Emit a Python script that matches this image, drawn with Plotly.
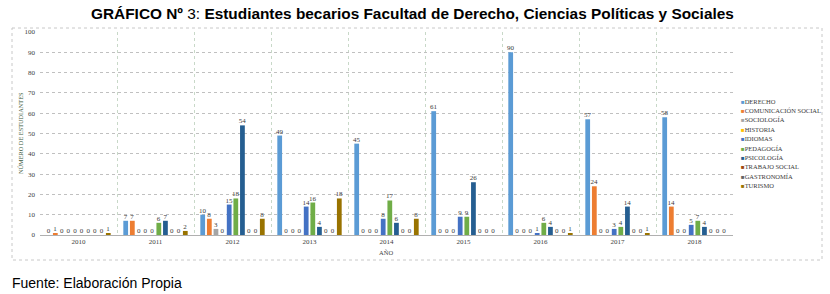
import plotly.graph_objects as go

years = ["2010", "2011", "2012", "2013", "2014", "2015", "2016", "2017", "2018"]
series_names = ["DERECHO", "COMUNICACIÓN SOCIAL", "SOCIOLOGÍA", "HISTORIA", "IDIOMAS",
                "PEDAGOGÍA", "PSICOLOGÍA", "TRABAJO SOCIAL", "GASTRONOMÍA", "TURISMO"]
derecho = [0, 7, 10, 49, 45, 61, 90, 57, 58]
comunicacion = [1, 7, 8, 0, 0, 0, 0, 24, 14]
sociologia = [0, 0, 3, 0, 0, 0, 0, 0, 0]
historia = [0, 0, 0, 0, 0, 0, 0, 0, 0]
idiomas = [0, 0, 15, 14, 8, 9, 1, 3, 5]
pedagogia = [0, 6, 18, 16, 17, 9, 6, 4, 7]
psicologia = [0, 7, 54, 4, 6, 26, 4, 14, 4]
trabajo_social = [0, 0, 0, 0, 0, 0, 0, 0, 0]
gastronomia = [0, 0, 0, 0, 0, 0, 0, 0, 0]
turismo = [1, 2, 8, 18, 8, 0, 1, 1, 0]
y_ticks = [0, 10, 20, 30, 40, 50, 60, 70, 80, 90, 100]

series_values = [derecho, comunicacion, sociologia, historia, idiomas,
                 pedagogia, psicologia, trabajo_social, gastronomia, turismo]
colors = ["#5B9BD5", "#ED7D31", "#A5A5A5", "#FFC000", "#4472C4",
          "#70AD47", "#255E91", "#9E480E", "#636363", "#997300"]

W, H = 830, 294
L, R, T, B = 40, 97, 32, 59
PW, PH = W - L - R, H - T - B

def px(x):
    return (x - L) / PW

def py(y):
    return (H - B - y) / PH

serif = "Liberation Serif, Times New Roman, serif"
sans = "Liberation Sans, Arial, sans-serif"

fig = go.Figure()
for name, vals, col in zip(series_names, series_values, colors):
    fig.add_trace(go.Bar(
        x=years, y=vals, name=name, marker=dict(color=col, line=dict(width=0)),
        text=[str(v) for v in vals], textposition="outside", textangle=0,
        constraintext="none", cliponaxis=False,
        textfont=dict(family=serif, size=7, color="#3a3a3a"),
        showlegend=False,
    ))

annotations = []
leg_y0, leg_dy = 101, 9.4
for i, (name, col) in enumerate(zip(series_names, colors)):
    annotations.append(dict(
        x=px(739), y=py(leg_y0 + i * leg_dy), xref="paper", yref="paper",
        xanchor="left", yanchor="middle", showarrow=False,
        text=f"<span style='color:{col};font-size:6px'>■</span>{name}",
        font=dict(family=serif, size=6.5, color="#3a3a3a"),
    ))
annotations.append(dict(x=px(20), y=py(133), xref="paper", yref="paper", showarrow=False,
                        xanchor="center", yanchor="middle",
                        text="NÚMERO DE ESTUDIANTES", textangle=-90,
                        font=dict(family=serif, size=6.3, color="#3d5a3d")))
annotations.append(dict(x=px(386), y=py(252), xref="paper", yref="paper", showarrow=False,
                        xanchor="center", yanchor="middle",
                        text="AÑO", font=dict(family=serif, size=6.5, color="#404040")))
annotations.append(dict(x=px(413), y=py(13), xref="paper", yref="paper", showarrow=False,
                        xanchor="center", yanchor="middle",
                        text="<b>GRÁFICO Nº</b> 3: <b>Estudiantes becarios Facultad de Derecho, Ciencias Políticas y Sociales</b>",
                        font=dict(family=sans, size=15.4, color="#000000")))
annotations.append(dict(x=px(10), y=py(283), xref="paper", yref="paper", showarrow=False,
                        xanchor="left", yanchor="middle", text="Fuente: Elaboración Propia",
                        font=dict(family=sans, size=14, color="#000000")))

fig.update_layout(
    width=W, height=H, margin=dict(l=L, r=R, t=T, b=B),
    paper_bgcolor="white", plot_bgcolor="white",
    barmode="group", bargap=0.14, bargroupgap=0.28,
    annotations=annotations,
    shapes=[dict(type="rect", xref="paper", yref="paper",
                 x0=px(12), x1=px(822), y0=py(28), y1=py(260),
                 line=dict(color="#C8C8C8", width=1, dash="dot"), layer="below")],
    xaxis=dict(type="category", tickson="boundaries", showgrid=True,
               gridcolor="#C8D8C8", griddash="dot", gridwidth=1,
               ticks="", showline=True, linecolor="#B0B0B0",
               tickfont=dict(family=serif, size=7, color="#404040"),
               fixedrange=True),
    yaxis=dict(range=[0, 100], tickvals=y_ticks, showgrid=True,
               gridcolor="#C0C0C0", griddash="dot", gridwidth=1,
               zeroline=False, showline=False,
               tickfont=dict(family=serif, size=7, color="#404040"),
               ticks="", ticklabelstandoff=4, fixedrange=True),
    showlegend=False,
)

fig.write_html("out.html", post_script="document.body.style.margin='0';",
               config={"displayModeBar": False, "staticPlot": True})
